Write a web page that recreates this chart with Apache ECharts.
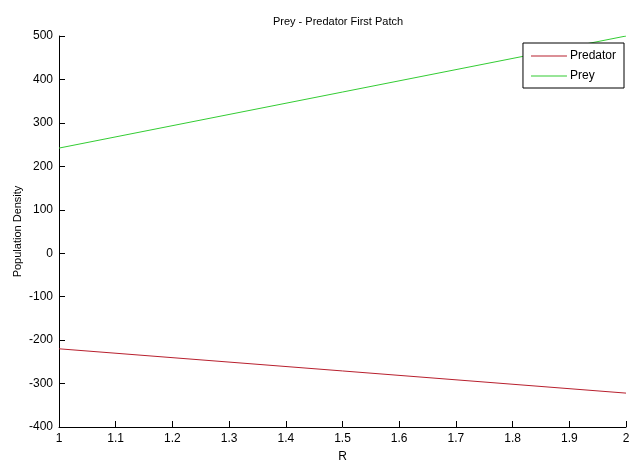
<!DOCTYPE html>
<html><head><meta charset="utf-8">
<script src="https://cdn.jsdelivr.net/npm/echarts@6/dist/echarts.min.js"></script>
<style>html,body{margin:0;padding:0;background:#fff}#c{width:632px;height:462px}</style>
</head><body><div id="c"></div>
<script>
const rValues = [1, 2];
const predator = [-220, -322];
const prey = [242, 500];
const xTicks = [1, 1.1, 1.2, 1.3, 1.4, 1.5, 1.6, 1.7, 1.8, 1.9, 2];
const yTicks = [-400, -300, -200, -100, 0, 100, 200, 300, 400, 500];

const font = '"Liberation Sans", Arial, sans-serif';
const chart = echarts.init(document.getElementById('c'), null, {renderer: 'canvas'});
chart.setOption({
  backgroundColor: '#fff',
  animation: false,
  title: {
    text: 'Prey - Predator First Patch',
    left: 333, textAlign: 'center', top: 11,
    textStyle: {fontFamily: font, fontSize: 11, fontWeight: 'normal', color: '#000'}
  },
  legend: {
    orient: 'vertical', right: 8, top: 43,
    data: ['Predator', 'Prey'],
    icon: 'rect', itemWidth: 36, itemHeight: 1, itemGap: 8,
    borderColor: '#000', borderWidth: 1, backgroundColor: '#fff', borderRadius: 0,
    padding: [7, 8, 6, 8],
    textStyle: {fontFamily: font, fontSize: 12, color: '#000', padding: [0, 0, 0, -2]}
  },
  grid: {left: 59, right: 6, top: 36, bottom: 35, outerBoundsMode: 'none', containLabel: false},
  xAxis: {
    type: 'value', min: 1, max: 2, interval: 0.1,
    name: 'R', nameLocation: 'middle', nameGap: 24, nameMoveOverlap: false,
    nameTextStyle: {fontFamily: font, fontSize: 12, color: '#000'},
    axisLine: {show: true, onZero: false, lineStyle: {color: '#000', width: 1}},
    axisTick: {show: true, inside: true, length: 6, lineStyle: {color: '#000'}},
    axisLabel: {fontFamily: font, fontSize: 12, color: '#000', margin: 6,
      formatter: v => String(Math.round(v * 10) / 10)},
    splitLine: {show: false}
  },
  yAxis: {
    type: 'value', min: -400, max: 500, interval: 100,
    name: 'Population Density', nameLocation: 'middle', nameGap: 36, nameMoveOverlap: false,
    nameTextStyle: {fontFamily: font, fontSize: 11, color: '#000'},
    axisLine: {show: true, onZero: false, lineStyle: {color: '#000', width: 1}},
    axisTick: {show: true, inside: true, length: 6, lineStyle: {color: '#000'}},
    axisLabel: {fontFamily: font, fontSize: 12, color: '#000', margin: 6},
    splitLine: {show: false}
  },
  series: [
    {name: 'Predator', type: 'line', data: rValues.map((r, i) => [r, predator[i]]),
      showSymbol: false, lineStyle: {color: '#b8202e', width: 1}, itemStyle: {color: '#b8202e'}},
    {name: 'Prey', type: 'line', data: rValues.map((r, i) => [r, prey[i]]),
      showSymbol: false, lineStyle: {color: '#33cc33', width: 1}, itemStyle: {color: '#33cc33'}}
  ]
});
</script></body></html>
